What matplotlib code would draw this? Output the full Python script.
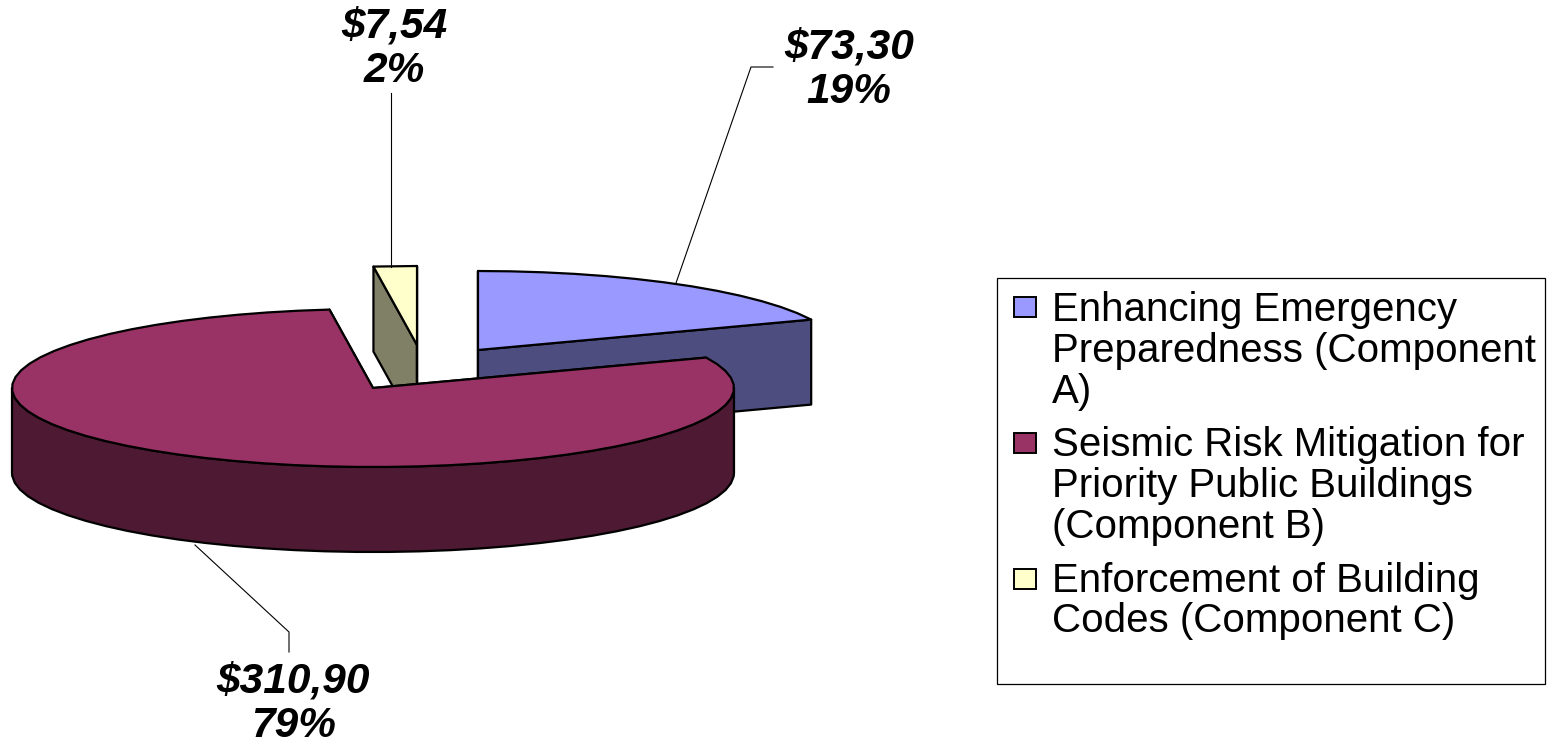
import numpy as np
import matplotlib
matplotlib.use('Agg')
import matplotlib.pyplot as plt
from matplotlib.patches import Polygon, Rectangle

# --- Data ---
components = ['Enhancing Emergency\nPreparedness (Component\nA)',
              'Seismic Risk Mitigation for\nPriority Public Buildings\n(Component B)',
              'Enforcement of Building\nCodes (Component C)']
values = [73.30, 310.90, 7.54]
amount_labels = ['$73,30', '$310,90', '$7,54']
pct_labels = ['19%', '79%', '2%']

top_colors = ['#9999FF', '#993366', '#FFFFCC']
side_colors = ['#4D4D80', '#4D1933', '#808066']

# --- Pie geometry (pixels) ---
RX, RY, DEPTH = 361, 79, 85
apexes = [(478, 350), (373, 388), (417, 345)]
draw_order = [2, 0, 1]
RIM_STEP = np.radians(5)  # the original outline is a coarse polyline

fig = plt.figure(figsize=(15.54, 7.4), dpi=100)
ax = fig.add_axes([0, 0, 1, 1])
ax.set_xlim(0, 1554)
ax.set_ylim(740, 0)
ax.axis('off')

edges = np.cumsum([0] + values) / sum(values) * 2 * np.pi


def rim(i, t):
    cx, cy = apexes[i]
    return np.column_stack([cx + RX * np.sin(t), cy - RY * np.cos(t)])


def draw_slice(i):
    cx, cy = apexes[i]
    t0, t1 = edges[i], edges[i + 1]
    t = np.linspace(t0, t1, max(2, int((t1 - t0) / RIM_STEP) + 1))
    arc = rim(i, t)
    down = np.array([0, DEPTH])
    centre = np.array([[cx, cy]])
    style = dict(edgecolor='black', linewidth=1.6, joinstyle='round')

    # cut faces, back to front
    for p in (arc[0], arc[-1]):
        face = np.array([centre[0], p, p + down, centre[0] + down])
        ax.add_patch(Polygon(face, facecolor=side_colors[i], **style))

    # outer wall, only the part facing the viewer
    front = (t > np.pi / 2) & (t < 3 * np.pi / 2)
    if front.any():
        wall = rim(i, np.concatenate([[np.pi / 2], t[front], [3 * np.pi / 2]]))
        ax.add_patch(Polygon(np.vstack([wall, wall[::-1] + down]),
                             facecolor=side_colors[i], **style))

    ax.add_patch(Polygon(np.vstack([centre, arc]), facecolor=top_colors[i], **style))


for i in draw_order:
    draw_slice(i)

# --- Leader lines ---
leaders = [[(676, 283), (751, 67), (773, 67)],
           [(195, 545), (289, 632), (289, 652)],
           [(391, 267), (391, 93)]]
for pts in leaders:
    xs, ys = zip(*pts)
    ax.plot(xs, ys, color='black', lw=0.8)

# --- Data labels ---
label_pos = [(849, 70), (293, 704), (394, 49)]
for (x, y), amt, pct in zip(label_pos, amount_labels, pct_labels):
    ax.text(x, y, amt + '\n' + pct, ha='center', va='center', family='Liberation Sans',
            style='italic', weight='bold', fontsize=30.5, linespacing=1.12, color='black')

# --- Legend ---
ax.add_patch(Rectangle((997, 278), 548, 406, facecolor='white', edgecolor='black', lw=0.9))
swatch_y = [307, 443, 579]
text_y = [351, 486, 601]
for k, name in enumerate(components):
    ax.add_patch(Rectangle((1014, swatch_y[k] - 10), 22, 20, facecolor=top_colors[k],
                           edgecolor='black', lw=1.4))
    ax.text(1052, text_y[k], name, ha='left', va='center', family='Liberation Sans',
            fontsize=29, linespacing=1.09, color='black')

fig.savefig('out.png', dpi=100)
